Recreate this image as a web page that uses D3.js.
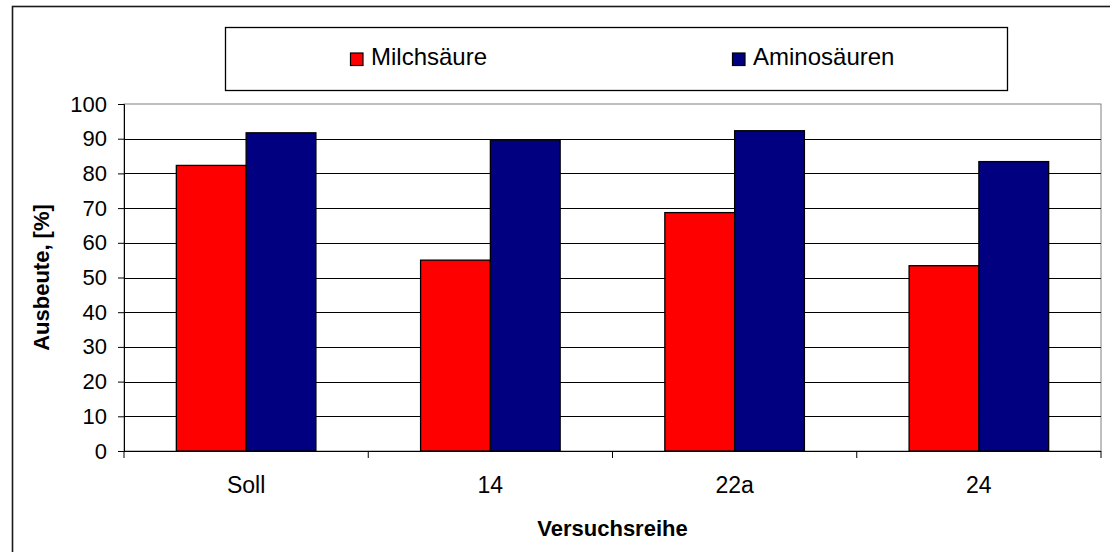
<!DOCTYPE html>
<html>
<head>
<meta charset="utf-8">
<script src="https://cdn.jsdelivr.net/npm/d3@7"></script>
<style>
  html, body { margin: 0; padding: 0; background: #fff; }
  svg { display: block; font-family: "Liberation Sans", Arial, sans-serif; }
</style>
</head>
<body>
<svg id="chart" width="1110" height="552"></svg>
<script>
const categories = ["Soll", "14", "22a", "24"];
const seriesNames = ["Milchsäure", "Aminosäuren"];
const milchsaeure = [82.3, 55.0, 68.7, 53.4];
const aminosaeuren = [91.7, 89.6, 92.3, 83.4];
const yTicks = [0, 10, 20, 30, 40, 50, 60, 70, 80, 90, 100];
const colors = ["#FF0000", "#000080"];
const xTitle = "Versuchsreihe";
const yTitle = "Ausbeute, [%]";

const seriesValues = [milchsaeure, aminosaeuren];
const svg = d3.select("#chart");

const plot = { left: 124, right: 1101, top: 104, bottom: 451 };

// outer frame (extends beyond right/bottom)
svg.append("rect")
  .attr("x", 12.5).attr("y", 6.5)
  .attr("width", 1130).attr("height", 580)
  .attr("fill", "none").attr("stroke", "#1a1a1a").attr("stroke-width", 1.6);

const x0 = d3.scaleBand().domain(categories).range([plot.left, plot.right]).padding(0);
const x1 = d3.scaleBand().domain(seriesNames).range([0, x0.bandwidth()])
  .paddingInner(0).paddingOuter(0.75);
const y = d3.scaleLinear().domain([0, 100]).range([plot.bottom, plot.top]);

// plot area border
svg.append("rect")
  .attr("x", plot.left).attr("y", plot.top)
  .attr("width", plot.right - plot.left).attr("height", plot.bottom - plot.top)
  .attr("fill", "none").attr("stroke", "#808080").attr("stroke-width", 1);

// gridlines
svg.append("g").selectAll("line")
  .data(yTicks.filter(t => t > 0 && t < 100))
  .join("line")
  .attr("x1", plot.left).attr("x2", plot.right)
  .attr("y1", d => Math.round(y(d)) + 0.5).attr("y2", d => Math.round(y(d)) + 0.5)
  .attr("stroke", "#000").attr("stroke-width", 1);

// bars
const groups = svg.append("g").selectAll("g")
  .data(categories)
  .join("g")
  .attr("transform", d => `translate(${x0(d)},0)`);

groups.selectAll("rect")
  .data((c, i) => seriesNames.map((s, j) => ({ s, j, v: seriesValues[j][i] })))
  .join("rect")
  .attr("x", d => x1(d.s))
  .attr("y", d => y(d.v))
  .attr("width", x1.bandwidth())
  .attr("height", d => y(0) - y(d.v))
  .attr("fill", d => colors[d.j])
  .attr("stroke", "#000").attr("stroke-width", 1.3);

// y axis
const yAxis = d3.axisLeft(y).tickValues(yTicks).tickSize(6).tickPadding(11).tickFormat(d3.format("d"));
const ya = svg.append("g").attr("transform", `translate(${plot.left},0)`).call(yAxis);
ya.select(".domain").attr("stroke", "#000");
ya.selectAll(".tick line").attr("stroke", "#000");
ya.selectAll(".tick text").attr("font-size", 22).attr("fill", "#000")
  .attr("font-family", "'Liberation Sans', Arial, sans-serif");

// x axis: ticks at category boundaries
const xa = svg.append("g").attr("transform", `translate(0,${plot.bottom})`);
xa.append("line").attr("x1", plot.left).attr("x2", plot.right)
  .attr("y1", 0.5).attr("y2", 0.5).attr("stroke", "#000");
const boundaries = categories.map(c => x0(c)).concat([x0(categories[categories.length - 1]) + x0.bandwidth()]);
xa.selectAll("line.tick").data(boundaries).join("line").attr("class", "tick")
  .attr("x1", d => d).attr("x2", d => d).attr("y1", 0).attr("y2", 7)
  .attr("stroke", "#000");
xa.selectAll("text").data(categories).join("text")
  .attr("x", d => x0(d) + x0.bandwidth() / 2)
  .attr("y", 42)
  .attr("text-anchor", "middle")
  .attr("font-size", 23)
  .attr("fill", "#000")
  .text(d => d);

// axis titles
svg.append("text")
  .attr("x", (plot.left + plot.right) / 2).attr("y", 536)
  .attr("text-anchor", "middle").attr("font-size", 22).attr("font-weight", "bold")
  .text(xTitle);
svg.append("text")
  .attr("transform", `translate(49,${(plot.top + plot.bottom) / 2}) rotate(-90)`)
  .attr("text-anchor", "middle").attr("font-size", 22).attr("font-weight", "bold")
  .text(yTitle);

// legend
const legend = svg.append("g");
legend.append("rect")
  .attr("x", 225.5).attr("y", 27.5).attr("width", 782).attr("height", 63)
  .attr("fill", "#fff").attr("stroke", "#000").attr("stroke-width", 1.3);
const legendX = [350, 732];
const items = legend.selectAll("g.item").data(seriesNames).join("g").attr("class", "item")
  .attr("transform", (d, i) => `translate(${legendX[i]},0)`);
items.append("rect").attr("x", 0.5).attr("y", 53).attr("width", 12.5).attr("height", 12.5)
  .attr("fill", (d, i) => colors[i]).attr("stroke", "#000").attr("stroke-width", 1.2);
items.append("text").attr("x", 21).attr("y", 65).attr("font-size", 24).attr("fill", "#000")
  .text(d => d);
</script>
</body>
</html>
